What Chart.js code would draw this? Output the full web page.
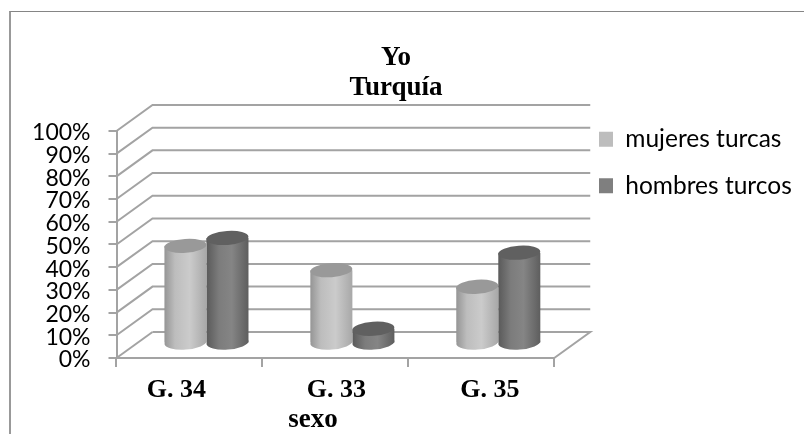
<!DOCTYPE html>
<html><head><meta charset="utf-8">
<style>html,body{margin:0;padding:0;background:#fff;overflow:hidden}
#f{position:absolute;left:9px;top:11px;width:795px;height:423px;border-left:2px solid #999;border-top:1px solid #858585}
#w{position:absolute;left:0;top:0;width:804px;height:434px;filter:blur(0.35px)}</style>
<script src="https://cdn.jsdelivr.net/npm/chart.js@4"></script></head>
<body><div id="f"></div><div id="w"><canvas id="c" width="804" height="434"></canvas></div>
<script>
const categories=["G. 34","G. 33","G. 35"];
const mujeres=[43,32.3,25];
const hombres=[46.5,6.5,40];
const seriesNames=["mujeres turcas","hombres turcos"];
const titleLines=["Yo","Turquía"];
const xTitle="sexo";
const DX=36,DY=-26,BX=17,BY=-14.5,RY=7;
const labelNudge=[-13,1,8.5];
const grid='#a3a3a3';
const serif='"Liberation Serif"';
const sans='Lato';
function grad(ctx,x0,x1,stops){const g=ctx.createLinearGradient(x0,0,x1,0);stops.forEach(s=>g.addColorStop(s[0],s[1]));return g;}
const light=[[0,'#959595'],[.25,'#bdbdbd'],[.6,'#cbcbcb'],[1,'#a8a8a8']];
const dark=[[0,'#5a5a5a'],[.3,'#7c7c7c'],[.6,'#858585'],[1,'#5e5e5e']];
const plugin={id:'wall3d',
 afterLayout(ch){const l=ch.legend;l.left=577;l.top=105;l.width=227;l.right=l.left+l.width;l.bottom=l.top+l.height;l.adjustHitBoxes();
  const t=ch.titleBlock;t.left=0;t.width=792;t.right=792;},
 beforeDraw(ch){const items=ch.scales.x.getLabelItems();items.forEach((it,i)=>{if(!it.nudged){it.options.translation=[it.options.translation[0]+labelNudge[i],it.options.translation[1]];it.nudged=true;}});},
 beforeDatasetsDraw(ch){const c=ch.ctx,y=ch.scales.y,a=ch.chartArea;c.save();c.strokeStyle=grid;c.lineWidth=2;
  y.ticks.forEach(t=>{const p=y.getPixelForValue(t.value);c.beginPath();c.moveTo(a.left,p);c.lineTo(a.left+DX,p+DY);if(t.value>0)c.lineTo(a.right+DX,p+DY);c.stroke();});
  const p0=y.getPixelForValue(0);
  c.beginPath();c.moveTo(a.left+DX,p0+DY);c.lineTo(a.right+DX,p0+DY);c.lineTo(a.right,p0);c.stroke();
  c.restore();c.save();c.translate(BX,BY);},
 beforeDatasetDraw(ch,args){const c=ch.ctx,m=args.meta,st=args.index===0?light:dark;
  m.data.forEach(b=>{const w=b.width;b.options=Object.assign({},b.options,{backgroundColor:grad(c,b.x-w/2,b.x+w/2,st)});
   c.save();c.fillStyle=grad(c,b.x-w/2,b.x+w/2,st);c.beginPath();c.ellipse(b.x,b.base,w/2,RY,-0.07,0,Math.PI*2);c.fill();c.restore();});},
 afterDatasetDraw(ch,args){const c=ch.ctx,m=args.meta;
  m.data.forEach(b=>{c.save();c.fillStyle=args.index===0?'#999999':'#606060';c.beginPath();c.ellipse(b.x,b.y,b.width/2,RY,-0.07,0,Math.PI*2);c.fill();c.restore();});},
 afterDatasetsDraw(ch){ch.ctx.restore();},
 afterDraw(ch){const c=ch.ctx;c.save();c.font='bold 27px '+serif;c.fillStyle='#000';c.textAlign='center';c.textBaseline='middle';c.fillText(xTitle,313,420);c.restore();}
};
new Chart(document.getElementById('c'),{type:'bar',
 data:{labels:categories,datasets:[
  {label:seriesNames[0],data:mujeres,backgroundColor:'#bdbdbd'},
  {label:seriesNames[1],data:hombres,backgroundColor:'#7f7f7f'}]},
 options:{responsive:false,animation:false,
  layout:{padding:{left:0,right:65,top:43.5,bottom:0}},
  datasets:{bar:{categoryPercentage:0.576,barPercentage:1}},
  plugins:{tooltip:{enabled:false},
   title:{display:true,text:titleLines,color:'#000',font:{family:serif,size:27,weight:'bold',lineHeight:1.11},padding:{top:0,bottom:27.5}},
   legend:{position:'right',align:'start',
    labels:{boxWidth:14,boxHeight:15,padding:22,color:'#000',font:{family:sans,size:24.5}}}},
  scales:{
   x:{afterFit:s=>{s.height=76;},grid:{display:true,drawOnChartArea:false,drawTicks:true,tickLength:9,color:grid,lineWidth:2},border:{color:grid,width:2},
      ticks:{color:'#000',font:{family:serif,size:26,weight:'bold'},padding:8,maxRotation:0}},
   y:{afterFit:s=>{s.width=116.5;},min:0,max:100,grid:{display:true,drawOnChartArea:false,tickLength:8,color:grid,lineWidth:2},border:{color:grid,width:2},
      ticks:{stepSize:10,autoSkip:false,labelOffset:2,color:'#000',font:{family:sans,size:23},padding:18,callback:v=>v+'%'}}}},
 plugins:[plugin]});
</script></body></html>
